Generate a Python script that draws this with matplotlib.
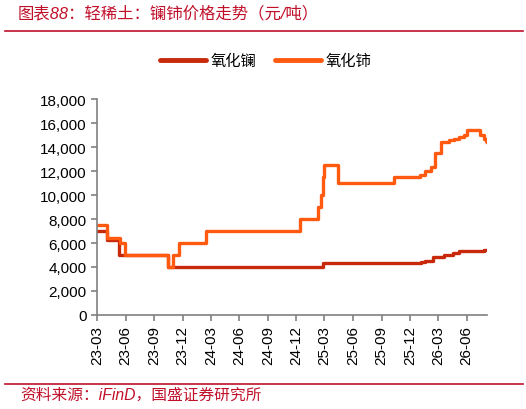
import numpy as np
import pandas as pd
import matplotlib
matplotlib.use("Agg")
import matplotlib.pyplot as plt
import matplotlib.dates as mdates
from matplotlib.lines import Line2D

plt.rcParams['font.family'] = ['Liberation Sans', 'Noto Sans CJK SC', 'DejaVu Sans']

# 氧化镧: dates where the price changes, and the new price (元/吨)
la_dates = ["2023-03-01", "2023-04-01", "2023-05-12", "2023-10-15", "2025-02-24",
            "2026-01-05", "2026-01-18", "2026-02-14", "2026-03-21", "2026-04-17",
            "2026-05-08", "2026-07-27", "2026-08-06"]
la_price = [7000, 6250, 5000, 4000, 4350,
            4400, 4500, 4800, 5000, 5200,
            5300, 5450, 5450]

# 氧化铈
ce_dates = ["2023-03-01", "2023-04-01", "2023-05-14", "2023-05-30", "2023-10-15",
            "2023-11-01", "2023-11-20", "2024-02-14", "2024-12-14", "2025-02-10",
            "2025-02-18", "2025-02-24", "2025-03-01", "2025-04-14", "2025-10-10",
            "2026-01-02", "2026-01-18", "2026-02-08", "2026-02-19", "2026-03-10",
            "2026-04-06", "2026-04-21", "2026-05-08", "2026-05-24", "2026-06-04",
            "2026-07-15", "2026-07-27", "2026-08-01", "2026-08-06"]
ce_price = [7500, 6400, 6000, 5000, 4000,
            5000, 6000, 7000, 8000, 9000,
            10000, 11500, 12500, 11000, 11500,
            11700, 12000, 12300, 13500, 14400,
            14550, 14700, 14850, 15000, 15400,
            15000, 14700, 14500, 14400]

tick_dates = pd.date_range("2023-03-01", "2026-06-01", freq="3MS")

la_color = '#C8290A'
ce_color = '#FF5A0F'
red = '#C0102A'

fig = plt.figure(figsize=(5.26, 4.10), dpi=100)
ax = fig.add_axes([0.1844, 0.2293, 0.7416, 0.5267])

ax.plot(pd.to_datetime(la_dates), la_price, drawstyle='steps-post', color=la_color, lw=2.4)
ax.plot(pd.to_datetime(ce_dates), ce_price, drawstyle='steps-post', color=ce_color, lw=2.4)

ax.set_xlim(pd.Timestamp("2023-03-01"), pd.Timestamp("2026-08-06"))
ax.set_ylim(0, 18000)
ax.set_yticks(np.arange(0, 18001, 2000))
ax.yaxis.set_major_formatter(matplotlib.ticker.FuncFormatter(lambda v, p: f"{int(v):,}"))
ax.set_xticks(tick_dates)
ax.xaxis.set_major_formatter(mdates.DateFormatter("%y-%m"))
plt.setp(ax.get_xticklabels(), rotation=90)

for s in ['top', 'right']:
    ax.spines[s].set_visible(False)
for s in ['left', 'bottom']:
    ax.spines[s].set_color('#808080')
    ax.spines[s].set_linewidth(1.2)
ax.tick_params(axis='both', colors='#808080', labelcolor='black', labelsize=11,
               length=4, width=1.2)

handles = [Line2D([], [], color=la_color, lw=3.5, solid_capstyle='round'),
           Line2D([], [], color=ce_color, lw=3.5, solid_capstyle='round')]
fig.legend(handles, ['氧化镧', '氧化铈'], loc='center', bbox_to_anchor=(0.505, 0.849),
           ncol=2, frameon=False, fontsize=11, handlelength=3.0, columnspacing=1.2,
           handletextpad=0.3)

fig.text(0.034, 0.968, '图表88：轻稀土：镧铈价格走势（元/吨）', color=red, fontsize=11.8,
         style='italic', va='center', ha='left')
fig.add_artist(Line2D([0.01, 0.995], [0.922, 0.922], color=red, lw=1.2,
                      transform=fig.transFigure))
fig.add_artist(Line2D([0.01, 0.995], [0.061, 0.061], color=red, lw=1.2,
                      transform=fig.transFigure))
fig.text(0.038, 0.036, '资料来源：iFinD，国盛证券研究所', color=red, fontsize=11.3,
         style='italic', va='center', ha='left')

fig.savefig('out.png', dpi=100)
